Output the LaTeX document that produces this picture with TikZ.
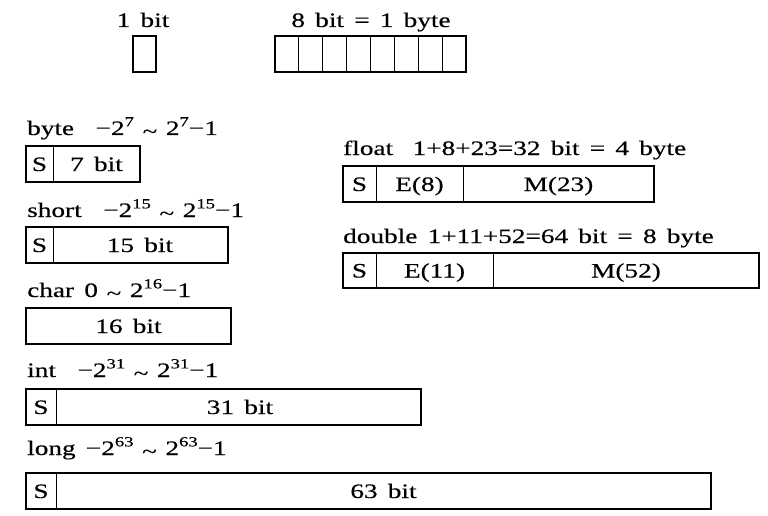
\documentclass[tikz,border=0pt]{standalone}
\usepackage{fontspec}
\setmainfont{Liberation Serif}[FakeStretch=1.33, WordSpace=1.5, FakeBold=0.4]
\newcommand\tld{\hspace{-0.08em}\raisebox{-0.15em}{\textasciitilde}\hspace{-0.08em}}
\newcommand\sps[1]{\raisebox{0.42em}{\fontsize{14}{14}\selectfont #1}}
\begin{document}
\begin{tikzpicture}[x=1pt,y=-1pt,
  txt/.style={inner sep=0pt, font=\fontsize{20.5}{24}\selectfont},
  lbl/.style={txt, anchor=base west},
  cell/.style={txt, anchor=base},
  box/.style={draw, line width=2pt, outer sep=0pt, inner sep=0pt, anchor=north west, minimum height=36pt},
  div/.style={line width=1pt}]
\useasboundingbox (0,0) rectangle (768,516);

% top: 1 bit and 8 bit
\node[cell] (t1) at (143,27) {1 bit};
\node[box, minimum width=23pt] (b1) at (133,36) {};
\node[cell] (t8) at (371,27) {8 bit = 1 byte};
\node[box, minimum width=191pt] (b8) at (275,36) {};
\foreach \k in {1,...,7}
  \draw[div] ([xshift=\k*23.875pt]b8.north west) -- ([xshift=\k*23.875pt]b8.south west);

% byte
\node[lbl] (lbyte) at (27,135) {byte\hspace{1.05em}−2\sps{7} \tld\ 2\sps{7}−1};
\node[box, minimum width=114pt] (bbyte) at (26,146) {};
\draw[div] ([xshift=27pt]bbyte.north west) -- ([xshift=27pt]bbyte.south west);
\node[cell] (sbyte) at (39.5,171) {S};
\node[cell] (vbyte) at (96.5,171) {7 bit};

% short
\node[lbl] (lshort) at (27,217) {short\hspace{1.05em}−2\sps{15} \tld\ 2\sps{15}−1};
\node[box, minimum width=202pt] (bshort) at (26,227) {};
\draw[div] ([xshift=27pt]bshort.north west) -- ([xshift=27pt]bshort.south west);
\node[cell] (sshort) at (39.5,252) {S};
\node[cell] (vshort) at (140,252) {15 bit};

% char
\node[lbl] (lchar) at (27,297) {char 0 \tld\ 2\sps{16}−1};
\node[box, minimum width=205pt] (bchar) at (26,308) {};
\node[cell] (vchar) at (128.5,333) {16 bit};

% int
\node[lbl] (lint) at (27,377) {int\hspace{1.05em}−2\sps{31} \tld\ 2\sps{31}−1};
\node[box, minimum width=395pt] (bint) at (26,389) {};
\draw[div] ([xshift=30pt]bint.north west) -- ([xshift=30pt]bint.south west);
\node[cell] (sint) at (41,414) {S};
\node[cell] (vint) at (240,414) {31 bit};

% long
\node[lbl] (llong) at (27,455) {long −2\sps{63} \tld\ 2\sps{63}−1};
\node[box, minimum width=685pt] (blong) at (26,473) {};
\draw[div] ([xshift=30pt]blong.north west) -- ([xshift=30pt]blong.south west);
\node[cell] (slong) at (41,498) {S};
\node[cell] (vlong) at (383.5,498) {63 bit};

% float
\node[lbl] (lfloat) at (343,155) {float\hspace{0.95em}1+8+23=32 bit = 4 byte};
\node[box, minimum width=311pt] (bfloat) at (343,166) {};
\draw[div] ([xshift=33pt]bfloat.north west) -- ([xshift=33pt]bfloat.south west);
\draw[div] ([xshift=120pt]bfloat.north west) -- ([xshift=120pt]bfloat.south west);
\node[cell] (sfloat) at (359.5,191) {S};
\node[cell] (efloat) at (419.5,191) {E(8)};
\node[cell] (mfloat) at (558.5,191) {M(23)};

% double
\node[lbl] (ldouble) at (343,243) {double 1+11+52=64 bit = 8 byte};
\node[box, minimum width=416pt, minimum height=35pt] (bdouble) at (343,253) {};
\draw[div] ([xshift=33pt]bdouble.north west) -- ([xshift=33pt]bdouble.south west);
\draw[div] ([xshift=150pt]bdouble.north west) -- ([xshift=150pt]bdouble.south west);
\node[cell] (sdouble) at (359.5,277.5) {S};
\node[cell] (edouble) at (434.5,277.5) {E(11)};
\node[cell] (mdouble) at (626,277.5) {M(52)};
\end{tikzpicture}
\end{document}
